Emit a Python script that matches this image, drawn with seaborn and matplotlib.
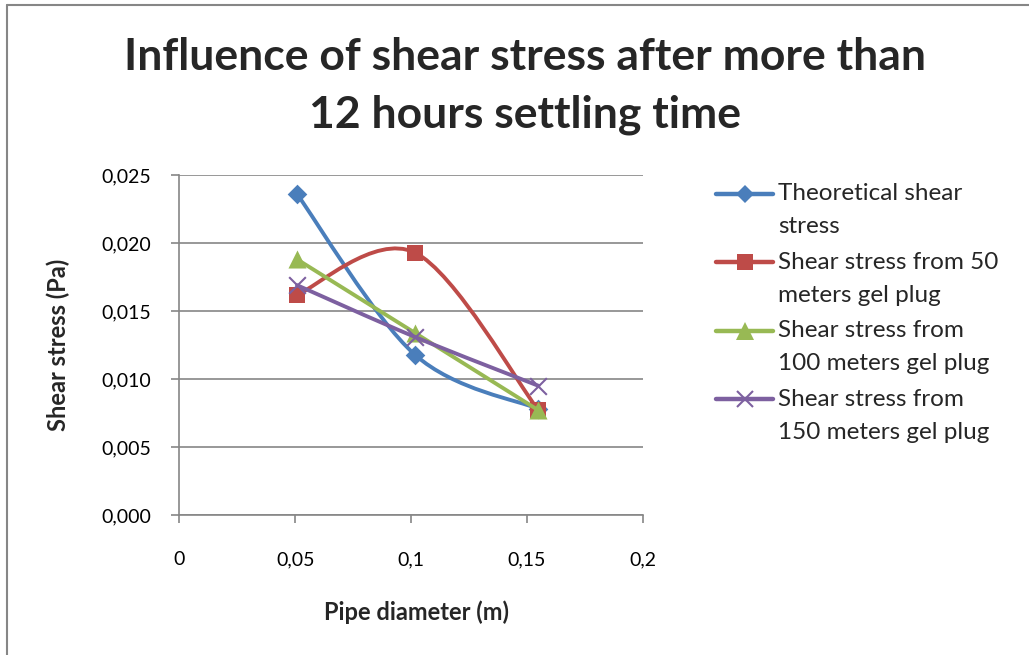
import numpy as np
import matplotlib
matplotlib.use("Agg")
import matplotlib.pyplot as plt
import seaborn as sns
from matplotlib.path import Path
from matplotlib.patches import PathPatch
from matplotlib.lines import Line2D
from matplotlib.legend_handler import HandlerLine2D

# ---- data ----
pipe_diameter = [0.0508, 0.1016, 0.155]
theoretical = [0.0236, 0.0118, 0.0078]
gel_50 = [0.0162, 0.0193, 0.0077]
gel_100 = [0.0188, 0.0134, 0.0077]
gel_150 = [0.0169, 0.0131, 0.0095]
series_labels = ["Theoretical shear\nstress",
                 "Shear stress from 50\nmeters gel plug",
                 "Shear stress from\n100 meters gel plug",
                 "Shear stress from\n150 meters gel plug"]
x_ticks = [0, 0.05, 0.1, 0.15, 0.2]
x_tick_labels = ["0", "0,05", "0,1", "0,15", "0,2"]
y_ticks = [0, 0.005, 0.01, 0.015, 0.02, 0.025]
y_tick_labels = ["0,000", "0,005", "0,010", "0,015", "0,020", "0,025"]

colors = ["#4A7EBB", "#BE4B48", "#98B954", "#7D60A0"]
markers = ["D", "s", "^", "x"]
msizes = [10, 12, 13, 12]

sns.set_theme(style="white")
plt.rcParams["font.family"] = ["Lato", "DejaVu Sans"]

fig = plt.figure(figsize=(10.29, 6.55), dpi=100)
ax = fig.add_axes([179.3 / 1029, 1 - 515 / 655, (642.7 - 179.3) / 1029, (515 - 175) / 655])

grid_c = "#868686"


def smooth_path(xs, ys):
    p = np.column_stack([xs, ys]).astype(float)
    n = len(p)
    verts = [p[0]]
    codes = [Path.MOVETO]
    for i in range(n - 1):
        pm = p[max(i - 1, 0)]
        pp = p[min(i + 2, n - 1)]
        c1 = p[i] + (p[i + 1] - pm) / 6.0
        c2 = p[i + 1] - (pp - p[i]) / 6.0
        verts += [c1, c2, p[i + 1]]
        codes += [Path.CURVE4] * 3
    return Path(verts, codes)


all_series = [theoretical, gel_50, gel_100, gel_150]
for k, ys in enumerate(all_series):
    patch = PathPatch(smooth_path(pipe_diameter, ys), facecolor="none",
                      edgecolor=colors[k], lw=2.8, capstyle="round",
                      joinstyle="round", zorder=3 + k)
    ax.add_patch(patch)
    if markers[k] == "x":
        sns.scatterplot(x=pipe_diameter, y=ys, marker="x", s=msizes[k] ** 2,
                        color=colors[k], linewidth=1.5, ax=ax, zorder=3.5 + k)
    else:
        sns.scatterplot(x=pipe_diameter, y=ys, marker=markers[k], s=msizes[k] ** 2,
                        color=colors[k], edgecolor=colors[k], linewidth=0,
                        ax=ax, zorder=3.5 + k)

ax.set_xlim(0, 0.2)
ax.set_ylim(0, 0.025)
ax.set_xticks(x_ticks)
ax.set_xticklabels(x_tick_labels)
ax.set_yticks(y_ticks)
ax.set_yticklabels(y_tick_labels)
ax.yaxis.grid(True, color=grid_c, lw=1.2)
ax.xaxis.grid(False)
for s in ["top", "right"]:
    ax.spines[s].set_visible(False)
for s in ["left", "bottom"]:
    ax.spines[s].set_color(grid_c)
    ax.spines[s].set_linewidth(1.2)
ax.tick_params(axis="both", which="major", direction="out", length=6, width=1.2,
               color=grid_c, labelsize=14, labelcolor="black")
ax.tick_params(axis="x", pad=20, bottom=True)
ax.tick_params(axis="y", pad=14, left=True)

ax.set_xlabel("Pipe diameter (m)", fontsize=17, fontweight="bold")
ax.xaxis.set_label_coords(416 / 1029, 1 - 612 / 655, transform=fig.transFigure)
ax.set_ylabel("Shear stress (Pa)", fontsize=17, fontweight="bold")
ax.yaxis.set_label_coords(58 / 1029, 1 - 345 / 655, transform=fig.transFigure)
ax.xaxis.label.set_va("center")
ax.yaxis.label.set_va("center")

fig.text(525 / 1029, 1 - 57 / 655, "Influence of shear stress after more than",
         ha="center", va="center", fontsize=32, fontweight="bold")
fig.text(525 / 1029, 1 - 115 / 655, "12 hours settling time",
         ha="center", va="center", fontsize=32, fontweight="bold")


class FirstLineHandler(HandlerLine2D):
    """Place the legend handle level with the first text line."""
    def __init__(self, shift, **kw):
        super().__init__(**kw)
        self.shift = shift

    def create_artists(self, legend, orig_handle, xdescent, ydescent, width,
                       height, fontsize, trans):
        return super().create_artists(legend, orig_handle, xdescent,
                                      ydescent - self.shift, width, height,
                                      fontsize, trans)


handles = [Line2D([], [], color=colors[k], lw=3.2, marker=markers[k],
                  markersize=msizes[k] * 0.95, markeredgewidth=1.5 if markers[k] == "x" else 0,
                  solid_capstyle="round")
           for k in range(4)]
shift_pt = 33 * 72 / 100
leg = fig.legend(handles, series_labels, loc="upper left",
                 bbox_to_anchor=(716 / 1029, 1 - 183 / 655),
                 frameon=False, fontsize=17.5, handlelength=2.35, handletextpad=0.2,
                 labelspacing=0.6, borderaxespad=0, borderpad=0,
                 handler_map={Line2D: FirstLineHandler(shift_pt)})
for t in leg.get_texts():
    t.set_linespacing(1.71)

# outer chart frame (top and left edges visible)
fig.add_artist(Line2D([7 / 1029, 1.0], [1 - 5 / 655, 1 - 5 / 655], transform=fig.transFigure,
                      color=grid_c, lw=1.5))
fig.add_artist(Line2D([7 / 1029, 7 / 1029], [0, 1 - 5 / 655], transform=fig.transFigure,
                      color=grid_c, lw=1.5))

fig.savefig("out.png", dpi=100, facecolor="white")
